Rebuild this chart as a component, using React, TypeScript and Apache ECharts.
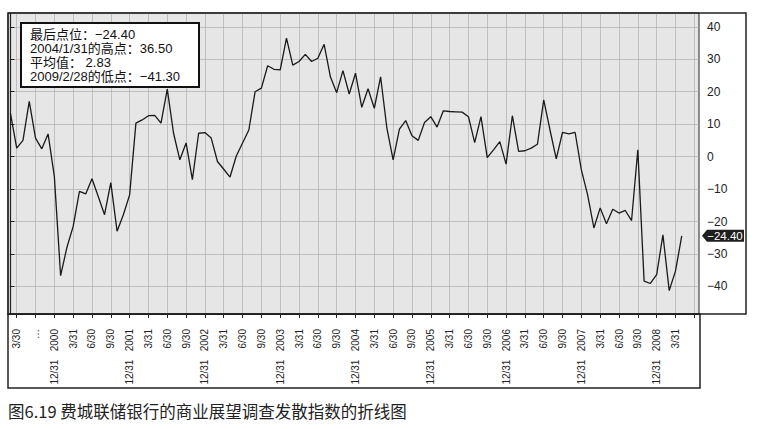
import React, { useEffect, useRef } from 'react';
import * as echarts from 'echarts';

// Monthly values, first one is May 2000, last one is April 2009
const firstYear = 2000;
const firstMonth = 5;
const values: number[] = [
  13.4, 2.6, 5.0, 17.0, 5.7, 2.4, 7.0, -6.1,
  -36.7, -28.0, -21.5, -10.7, -11.5, -6.8, -12.3, -17.9, -8.0, -23.0, -17.9, -11.8,
  10.3, 11.3, 12.6, 12.7, 10.3, 20.8, 7.2, -1.0, 4.2, -7.1, 7.2, 7.4,
  5.7, -1.5, -3.9, -6.3, 0.2, 4.2, 8.2, 20.0, 21.1, 28.0, 26.9, 26.7,
  36.5, 28.2, 29.3, 31.5, 29.3, 30.3, 34.6, 24.6, 19.7, 26.5, 19.3, 25.7,
  15.2, 20.9, 14.9, 24.6, 8.8, -1.0, 8.5, 11.1, 6.4, 5.0, 10.5, 12.3,
  9.1, 14.1, 13.9, 13.8, 13.7, 12.3, 4.3, 12.3, -0.3, 2.1, 4.6, -2.3,
  12.6, 1.6, 1.8, 2.6, 3.8, 17.5, 8.2, -0.7, 7.5, 7.0, 7.5, -4.1,
  -11.8, -22.0, -15.8, -20.7, -16.2, -17.4, -16.6, -19.7, 2.1, -38.4, -39.1, -36.4,
  -24.1, -41.3, -35.3, -24.4,
];

const SP = '\u00a0\u00a0\u00a0';
// Quarter-end tick labels, first at June 2000 (month index 1), every 3 months
const tickLabels: string[] = [
  '3/30', '\u2026', '12/31' + SP + '2000',
  '3/31', '6/30', '9/30', '12/31' + SP + '2001',
  '3/31', '6/30', '9/30', '12/31' + SP + '2002',
  '3/31', '6/30', '9/30', '12/31' + SP + '2003',
  '3/31', '6/30', '9/30', '12/31' + SP + '2004',
  '3/31', '6/30', '9/30', '12/31' + SP + '2005',
  '3/31', '6/30', '9/30', '12/31' + SP + '2006',
  '3/31', '6/30', '9/30', '12/31' + SP + '2007',
  '3/31', '6/30', '9/30', '12/31' + SP + '2008',
  '3/31',
];
const tickCount = 37; // one more gridline (June 2009) without label
const yTicks: number[] = [-40, -30, -20, -10, 0, 10, 20, 30, 40];
const averageValue = 2.83;
const title = '图6.19 费城联储银行的商业展望调查发散指数的折线图';

const fmt = (v: number) => (v < 0 ? '\u2212' + Math.abs(v).toFixed(2) : v.toFixed(2));
const dateOf = (i: number) => {
  const m0 = firstMonth - 1 + i;
  const y = firstYear + Math.floor(m0 / 12);
  const m = (m0 % 12) + 1;
  const d = new Date(y, m, 0).getDate();
  return `${y}/${m}/${d}`;
};

export default function App() {
  const ref = useRef<HTMLDivElement>(null);
  useEffect(() => {
    if (!ref.current) return;
    const chart = echarts.init(ref.current, null, { renderer: 'svg' });
    const data = values.map((v, i) => [i, v]);
    const last = values[values.length - 1];
    let hi = 0, lo = 0;
    values.forEach((v, i) => {
      if (v > values[hi]) hi = i;
      if (v < values[lo]) lo = i;
    });
    const tickVals = Array.from({ length: tickCount }, (_, k) => 1 + 3 * k);
    const labelVals = tickLabels.map((_, k) => 1 + 3 * k);
    const xMin = -0.387;
    const xMax = 109.75;
    const sans = 'Liberation Sans, Arial, Noto Sans CJK SC, sans-serif';
    const boxText = [
      `最后点位：${fmt(last)}`,
      `${dateOf(hi)}的高点：${fmt(values[hi])}`,
      `平均值：\u00a0${fmt(averageValue)}`,
      `${dateOf(lo)}的低点：${fmt(values[lo])}`,
    ].join('\n');

    chart.setOption({
      animation: false,
      backgroundColor: '#ffffff',
      grid: {
        left: 8, top: 13, width: 691, height: 301,
        show: true, backgroundColor: '#e6e6e6', borderColor: '#222', borderWidth: 1,
      },
      xAxis: {
        type: 'value', min: xMin, max: xMax, position: 'bottom',
        axisLine: { show: true, onZero: false, lineStyle: { color: '#222', width: 1.2 } },
        axisTick: { show: true, customValues: tickVals, length: 4, lineStyle: { color: '#222' } },
        axisLabel: {
          customValues: labelVals, rotate: 90, margin: 15,
          fontSize: 10, color: '#222',
          fontFamily: 'Liberation Sans Narrow, Liberation Sans, Arial, sans-serif',
          formatter: (v: number) => tickLabels[Math.round((v - 1) / 3)] ?? '',
        },
        splitLine: { show: true, lineStyle: { color: '#adadad', width: 0.7 } },
      },
      yAxis: {
        type: 'value', min: -48.5, max: 44.25, position: 'right',
        axisLine: { show: true, lineStyle: { color: '#222', width: 1.2 } },
        axisTick: { show: true, customValues: yTicks, length: 4, lineStyle: { color: '#222' } },
        axisLabel: {
          customValues: yTicks, margin: 8, fontSize: 12, color: '#222', fontFamily: sans,
          formatter: (v: number) => (v < 0 ? '\u2212' + Math.abs(v) : String(v)),
        },
        splitLine: { show: true, lineStyle: { color: '#adadad', width: 0.7 } },
      },
      series: [
        {
          type: 'line', data, symbol: 'none', clip: false,
          lineStyle: { color: '#1a1a1a', width: 1.3 },
          markPoint: {
            symbol: 'path://M0,6L5,0L42,0L42,12L5,12Z',
            symbolSize: [42, 12],
            symbolKeepAspect: false,
            symbolOffset: [24, 0],
            itemStyle: { color: '#1e1e1e' },
            label: {
              show: true, position: 'inside', color: '#ffffff', fontSize: 11.5,
              fontFamily: sans, offset: [2, 0],
              formatter: () => fmt(last),
            },
            data: [{ coord: [xMax, last], value: last }],
          },
        },
      ],
      graphic: [
        {
          type: 'rect', shape: { x: 8, y: 13, width: 738, height: 301 },
          style: { fill: 'none', stroke: '#222', lineWidth: 1.5 }, z: 100,
        },
        {
          type: 'rect', shape: { x: 8, y: 314, width: 692, height: 74 },
          style: { fill: 'none', stroke: '#222', lineWidth: 1.5 }, z: 100,
        },
        {
          type: 'rect', shape: { x: 21, y: 23, width: 178, height: 64 },
          style: { fill: '#ffffff', stroke: '#111', lineWidth: 2 }, z: 100,
        },
        {
          type: 'text', x: 30, y: 27, z: 101,
          style: {
            text: boxText, fontSize: 13, lineHeight: 14, fontFamily: sans,
            fill: '#111', verticalAlign: 'top',
          },
        },
        {
          type: 'text', x: 8, y: 411, z: 101,
          style: {
            text: title, fontSize: 16.5, fontFamily: 'Noto Sans CJK SC, sans-serif',
            fill: '#222', verticalAlign: 'middle',
          },
        },
      ],
    });
    return () => chart.dispose();
  }, []);
  return (
    <div
      ref={ref}
      style={{ position: 'fixed', left: 0, top: 0, width: 769, height: 429 }}
    />
  );
}
